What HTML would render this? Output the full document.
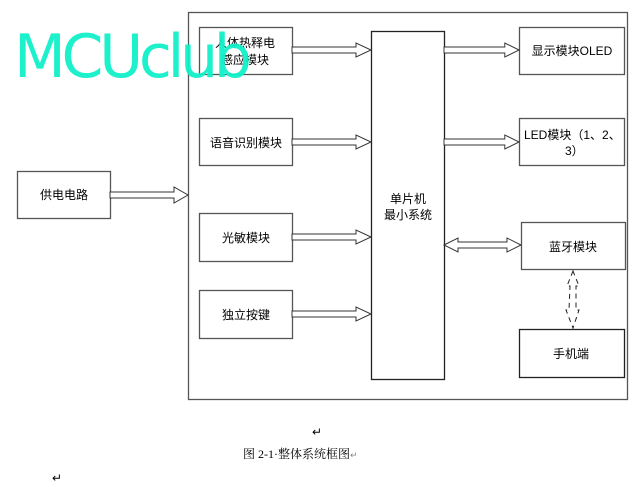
<!DOCTYPE html>
<html><head><meta charset="utf-8"><style>
html,body{margin:0;padding:0;background:#fff;}
svg{display:block;}
text{font-family:"Liberation Sans","Noto Sans CJK SC",sans-serif;font-size:12px;fill:#000;}
</style></head><body>
<svg width="641" height="487" viewBox="0 0 641 487" xmlns="http://www.w3.org/2000/svg">
<defs>
<g id="ar"><path d="M0,-3 L64,-3 L64,-7 L79,0 L64,7 L64,3 L0,3 Z" fill="#fff" stroke="#333" stroke-width="1"/></g>
</defs>
<rect x="188.5" y="12.5" width="439" height="387" fill="none" stroke="#555" stroke-width="1.3"/>
<g fill="#fff" stroke="#555" stroke-width="1.3">
<rect x="199.5" y="27.5" width="93" height="47"/>
<rect x="199.5" y="118.5" width="93" height="47"/>
<rect x="199.5" y="213.5" width="93" height="48"/>
<rect x="199.5" y="290.5" width="93" height="48"/>
<rect x="17.5" y="171.5" width="93" height="47"/>
<rect x="371.5" y="31.5" width="73" height="348" stroke="#222"/>
<rect x="519.5" y="27.5" width="105" height="47"/>
<rect x="519.5" y="118.5" width="105" height="47"/>
<rect x="521.5" y="222.5" width="104" height="47"/>
<rect x="519.5" y="329.5" width="105" height="48" stroke="#222"/>
</g>
<path d="M110,192 L174,192 L174,187 L188,195 L174,203 L174,198 L110,198 Z" fill="#fff" stroke="#333"/>
<use href="#ar" transform="translate(292,50)"/>
<use href="#ar" transform="translate(292,142)"/>
<use href="#ar" transform="translate(292,237)"/>
<use href="#ar" transform="translate(292,314)"/>
<use href="#ar" transform="translate(444,50) scale(0.95,1)"/>
<use href="#ar" transform="translate(444,142) scale(0.95,1)"/>
<path d="M444,245 L458,238 L458,242 L507,242 L507,238 L521,245 L507,252 L507,248 L458,248 L458,252 Z" fill="#fff" stroke="#333"/>
<path d="M573,271 L567,286 L570,286 L569,310 L566,310 L573,328 L579,310 L576,310 L576,286 L579,286 Z" fill="none" stroke="#222" stroke-dasharray="5,4"/>
<text x="245" y="47" text-anchor="middle">人体热释电</text>
<text x="245" y="64" text-anchor="middle">感应模块</text>
<text x="246" y="147" text-anchor="middle">语音识别模块</text>
<text x="246" y="242" text-anchor="middle">光敏模块</text>
<text x="246" y="319" text-anchor="middle">独立按键</text>
<text x="64" y="199" text-anchor="middle">供电电路</text>
<text x="408" y="203" text-anchor="middle">单片机</text>
<text x="408" y="219" text-anchor="middle">最小系统</text>
<text x="572" y="55" text-anchor="middle">显示模块OLED</text>
<text x="524" y="139">LED模块（1、2、</text>
<text x="565" y="155">3）</text>
<text x="573" y="251" text-anchor="middle">蓝牙模块</text>
<text x="571" y="358" text-anchor="middle">手机端</text>
<text x="312" y="436" font-size="9" fill="#888">↵</text>
<text x="243" y="458" font-size="14" style="font-family:'Liberation Serif','Noto Serif CJK SC',serif">图 2-1·整体系统框图<tspan font-size="9" fill="#888">↵</tspan></text>
<text x="52" y="482" font-size="9" fill="#888">↵</text>
<text x="14" y="77" style="font-family:'DejaVu Sans',sans-serif;font-size:60px;fill:#10f0c8;fill-opacity:0.95" textLength="238">MCUclub</text>
</svg>
</body></html>
